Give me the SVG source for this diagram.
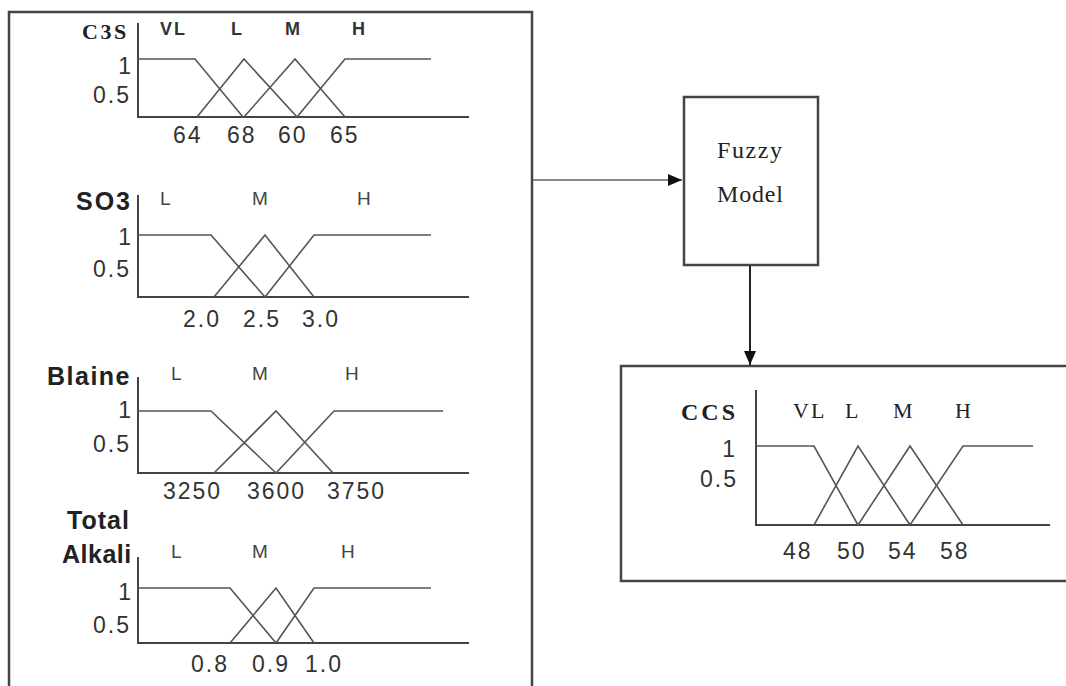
<svg xmlns="http://www.w3.org/2000/svg" width="1066" height="686" viewBox="0 0 1066 686">
<style>
.box{fill:#fff;stroke:#444;stroke-width:2.5}
.axis{fill:none;stroke:#444;stroke-width:2}
.mf{fill:none;stroke:#555;stroke-width:1.6}
.num{font-family:"Liberation Sans",Arial,sans-serif;font-size:23px;fill:#333;letter-spacing:2px}
.ttl{font-family:"Liberation Sans",Arial,sans-serif;font-size:25px;font-weight:bold;fill:#222}
.lvb{font-family:"Liberation Sans",Arial,sans-serif;font-size:18px;font-weight:bold;fill:#333}
.lv{font-family:"Liberation Sans",Arial,sans-serif;font-size:19px;fill:#444}
.ser{font-family:"Liberation Serif","Times New Roman",serif;fill:#222}
.conn{fill:none;stroke-width:2}
</style>
<defs>
<marker id="ah" markerUnits="userSpaceOnUse" markerWidth="16" markerHeight="12" refX="14" refY="6" orient="auto">
<path d="M0,0 L14,6 L0,12 Z" fill="#111"/>
</marker>
</defs>
<rect width="1066" height="686" fill="#fff"/>

<g id="inputs">
<rect class="box" x="9" y="12" width="523" height="690" stroke="#555"/>

<g id="c3s">
<text class="ser" x="82" y="39" font-size="22" font-weight="bold" letter-spacing="2.5">C3S</text>
<text class="lvb" x="160" y="35" letter-spacing="2">VL</text>
<text class="lvb" x="231" y="35">L</text>
<text class="lvb" x="285" y="35">M</text>
<text class="lvb" x="352" y="35">H</text>
<path class="axis" d="M138,23 V117 H469"/>
<text class="num" x="133" y="74" text-anchor="end">1</text>
<text class="num" x="93" y="103">0.5</text>
<path class="mf" d="M138,59 H195 L243,117"/>
<path class="mf" d="M197,117 L244,59 L297,117"/>
<path class="mf" d="M244,117 L295,59 L345,117"/>
<path class="mf" d="M297,117 L345,59 H431"/>
<text class="num" x="173" y="143">64</text>
<text class="num" x="227" y="143">68</text>
<text class="num" x="278" y="143">60</text>
<text class="num" x="330" y="143">65</text>
</g>

<g id="so3">
<text class="ttl" x="76" y="210" letter-spacing="2">SO3</text>
<text class="lv" x="160" y="205">L</text>
<text class="lv" x="252" y="205">M</text>
<text class="lv" x="357" y="205">H</text>
<path class="axis" d="M138,195 V297 H469"/>
<text class="num" x="133" y="245" text-anchor="end">1</text>
<text class="num" x="93" y="277">0.5</text>
<path class="mf" d="M138,235 H211 L265,297"/>
<path class="mf" d="M214,297 L265,235 L314,297"/>
<path class="mf" d="M265,297 L314,235 H431"/>
<text class="num" x="183" y="327">2.0</text>
<text class="num" x="243" y="327">2.5</text>
<text class="num" x="302" y="327">3.0</text>
</g>

<g id="blaine">
<text class="ttl" x="47" y="385" letter-spacing="1.5">Blaine</text>
<text class="lv" x="171" y="380">L</text>
<text class="lv" x="252" y="380">M</text>
<text class="lv" x="345" y="380">H</text>
<path class="axis" d="M138,377 V473 H469"/>
<text class="num" x="133" y="418" text-anchor="end">1</text>
<text class="num" x="93" y="452">0.5</text>
<path class="mf" d="M138,411 H211 L276,473"/>
<path class="mf" d="M214,473 L276,411 L333,473"/>
<path class="mf" d="M276,473 L334,411 H443"/>
<text class="num" x="163" y="499">3250</text>
<text class="num" x="247" y="499">3600</text>
<text class="num" x="327" y="499">3750</text>
</g>

<g id="alkali">
<text class="ttl" x="67" y="529" letter-spacing="1">Total</text>
<text class="ttl" x="62" y="563" letter-spacing="0.5">Alkali</text>
<text class="lv" x="171" y="558">L</text>
<text class="lv" x="252" y="558">M</text>
<text class="lv" x="341" y="558">H</text>
<path class="axis" d="M138,557 V643 H469"/>
<text class="num" x="133" y="600" text-anchor="end">1</text>
<text class="num" x="93" y="633">0.5</text>
<path class="mf" d="M138,588 H230 L276,643"/>
<path class="mf" d="M230,643 L276,588 L314,643"/>
<path class="mf" d="M276,643 L314,588 H431"/>
<text class="num" x="191" y="672">0.8</text>
<text class="num" x="252" y="672">0.9</text>
<text class="num" x="305" y="672">1.0</text>
</g>
</g>

<g id="fuzzy-model">
<rect class="box" x="684" y="97" width="134" height="168"/>
<text class="ser" x="717" y="158" font-size="24" textLength="65" lengthAdjust="spacing">Fuzzy</text>
<text class="ser" x="717" y="202" font-size="24" textLength="66" lengthAdjust="spacing">Model</text>
</g>

<g id="ccs">
<rect class="box" x="621" y="366" width="460" height="215" stroke="#333"/>
<text class="ser" x="681" y="420" font-size="24" font-weight="bold" letter-spacing="3">CCS</text>
<text class="ser" x="793" y="418" font-size="22" letter-spacing="2">VL</text>
<text class="ser" x="845" y="418" font-size="22">L</text>
<text class="ser" x="893" y="418" font-size="22">M</text>
<text class="ser" x="955" y="418" font-size="22">H</text>
<path class="axis" d="M756,390 V525 H1050"/>
<text class="num" x="737" y="457" text-anchor="end">1</text>
<text class="num" x="700" y="487">0.5</text>
<path class="mf" d="M756,446 H814 L858,525"/>
<path class="mf" d="M814,525 L858,446 L910,525"/>
<path class="mf" d="M858,525 L910,446 L963,525"/>
<path class="mf" d="M910,525 L963,446 H1033"/>
<text class="num" x="783" y="559">48</text>
<text class="num" x="837" y="559">50</text>
<text class="num" x="888" y="559">54</text>
<text class="num" x="940" y="559">58</text>
</g>

<g id="connectors">
<path class="conn" d="M533,180 H682" stroke="#888" marker-end="url(#ah)"/>
<path class="conn" d="M750,266 V365" stroke="#222" marker-end="url(#ah)"/>
</g>
</svg>
